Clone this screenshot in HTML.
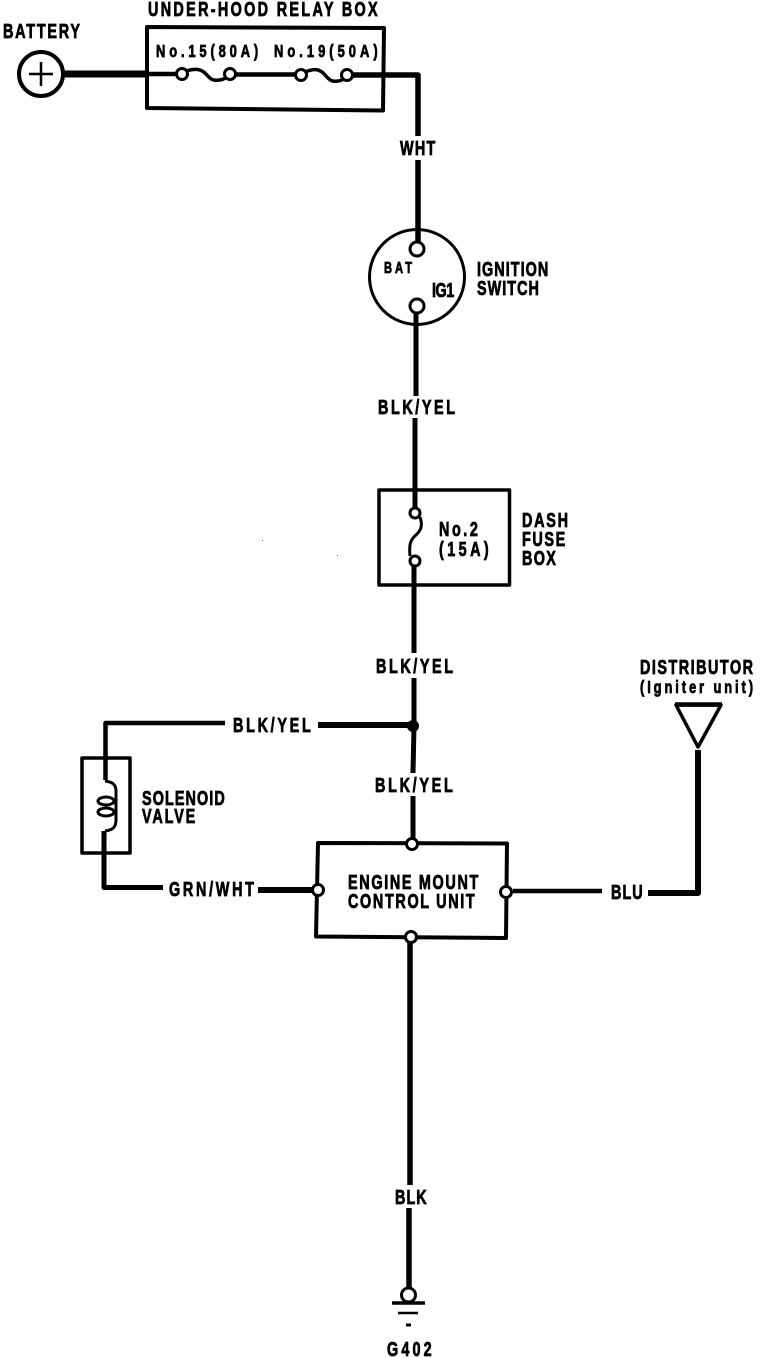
<!DOCTYPE html>
<html><head><meta charset="utf-8"><style>
html,body{margin:0;padding:0;background:#fff}
svg{display:block}
text{font-family:"Liberation Sans",sans-serif;font-weight:bold;font-size:20px;fill:#000;stroke:#000;stroke-width:.8px}
.s{font-size:15.5px}
.m{font-size:18px}
.w{fill:none;stroke:#000;stroke-linejoin:round;stroke-linecap:butt}
.c{fill:#fff;stroke:#000;stroke-width:3}
</style></head><body>
<svg width="768" height="1358" viewBox="0 0 768 1358" xmlns="http://www.w3.org/2000/svg">
<rect width="768" height="1358" fill="#fff"/>
<!-- battery -->
<circle cx="41" cy="74" r="22" fill="#fff" stroke="#000" stroke-width="4"/>
<path class="w" stroke-width="2.500" d="M29 74H53M41 62V86"/>
<path class="w" stroke-width="7" d="M64 74H146"/>
<path class="w" stroke-width="4.500" d="M146 74H178"/>
<!-- relay box -->
<path class="w" stroke-width="4" d="M147 27L384 28L383 110.500L147 108Z"/>
<path class="w" stroke-width="3.500" d="M186 71C196 68 201 69 206 74C211 80 214 81 219 80C223 80 225 78 227 77"/>
<path class="w" stroke-width="4.500" d="M235 74.500H296"/>
<path class="w" stroke-width="3.500" d="M305 72C315 68 320 69 325 75C330 81 333 82 338 81C341 81 343 79 345 78"/>
<path class="w" stroke-width="5.500" d="M352 75H418V136"/>
<circle class="c" cx="182" cy="74" r="5.500"/>
<circle class="c" cx="230" cy="74" r="5.500"/>
<circle class="c" cx="301" cy="75" r="5.500"/>
<circle class="c" cx="347" cy="75" r="5.500"/>
<!-- ignition -->
<circle class="c" cx="417" cy="277" r="47.500"/>
<path class="w" stroke-width="5.500" d="M418 160V243"/>
<circle class="c" cx="417" cy="249" r="7"/>
<circle class="c" cx="417" cy="306" r="7"/>
<path class="w" stroke-width="5" d="M416 313V396"/>
<!-- dash fuse -->
<path class="w" stroke-width="5" d="M415 418V508"/>
<rect class="w" stroke-width="3.500" x="379" y="490" width="130.500" height="95"/>
<path class="w" stroke-width="3" d="M420 517C423 526 421 530 416 535C410 540 409 545 410 556"/>
<circle class="c" cx="415" cy="513" r="5"/>
<circle class="c" cx="415" cy="561" r="5"/>
<path class="w" stroke-width="5" d="M414 566V653"/>
<!-- junction -->
<path class="w" stroke-width="5" d="M414 678V726L413 773"/>
<circle cx="413" cy="726" r="6" fill="#000"/>
<path class="w" stroke-width="6" d="M318 725H413"/>
<path class="w" stroke-width="4.500" d="M225 723H105.500V780"/>
<path class="w" stroke-width="5" d="M413 796V838"/>
<!-- solenoid -->
<rect class="w" stroke-width="3.500" x="82" y="758" width="48" height="95"/>
<path class="w" stroke-width="3" d="M105 781C112 782 116 784 116 791V820C116 828 112 830 105 831"/>
<ellipse cx="106" cy="801" rx="8" ry="4" fill="#fff" stroke="#000" stroke-width="3"/>
<ellipse cx="106" cy="812" rx="8" ry="4" fill="#fff" stroke="#000" stroke-width="3"/>
<path class="w" stroke-width="5" d="M104 831V887.500H163"/>
<path class="w" stroke-width="6" d="M258 890H312"/>
<!-- ECU -->
<path class="w" stroke-width="4" d="M318 843L507 843.500L506 938L316 936.500Z"/>
<circle class="c" cx="412" cy="844" r="5.500"/>
<circle class="c" cx="318" cy="890" r="5.500"/>
<circle class="c" cx="506" cy="892" r="5.500"/>
<circle class="c" cx="411" cy="937" r="5.500"/>
<!-- distributor -->
<path class="w" stroke-width="4.500" d="M513 891H602"/>
<path class="w" stroke-width="6" d="M648 893H698V750"/>
<path class="w" stroke-width="3.500" d="M676 705H721L698 747Z"/>
<path class="w" stroke-width="4.500" d="M675 704.500H722"/>
<!-- ground -->
<path class="w" stroke-width="5.500" d="M410 943V1185"/>
<path class="w" stroke-width="5.500" d="M409 1208V1288"/>
<circle class="c" cx="408.500" cy="1295" r="7"/>
<path class="w" stroke-width="3.500" d="M392 1303H425"/>
<path class="w" stroke-width="2.500" d="M398 1313H418"/>
<path class="w" stroke-width="3" d="M406 1325H411"/>
<rect x="262" y="540" width="1" height="1" fill="#777"/>
<rect x="337" y="555" width="1" height="1" fill="#777"/>
<!-- labels -->
<text transform="translate(148,16) scale(.72,1)" textLength="319">UNDER-HOOD RELAY BOX</text>
<text transform="translate(3,38) scale(.72,1)" textLength="107">BATTERY</text>
<text class="m" transform="translate(156,57) scale(.72,1)" textLength="142">No.15(80A)</text>
<text class="m" transform="translate(274,57) scale(.72,1)" textLength="144">No.19(50A)</text>
<text transform="translate(400,155) scale(.72,1)" textLength="49">WHT</text>
<text class="s" transform="translate(384,273) scale(.72,1)" textLength="39">BAT</text>
<text transform="translate(432,297) scale(.72,1)" textLength="31">IG1</text>
<text transform="translate(477,276) scale(.72,1)" textLength="99">IGNITION</text>
<text transform="translate(477,295) scale(.72,1)" textLength="86">SWITCH</text>
<text transform="translate(378,414) scale(.72,1)" textLength="107">BLK/YEL</text>
<text transform="translate(439,536) scale(.72,1)" textLength="54">No.2</text>
<text transform="translate(439,556) scale(.72,1)" textLength="69">(15A)</text>
<text transform="translate(522,527) scale(.72,1)" textLength="64">DASH</text>
<text transform="translate(522,546) scale(.72,1)" textLength="60">FUSE</text>
<text transform="translate(522,565) scale(.72,1)" textLength="47">BOX</text>
<text transform="translate(376,673) scale(.72,1)" textLength="107">BLK/YEL</text>
<text transform="translate(233,732) scale(.72,1)" textLength="108">BLK/YEL</text>
<text transform="translate(375,792) scale(.72,1)" textLength="108">BLK/YEL</text>
<text transform="translate(142,805) scale(.72,1)" textLength="115">SOLENOID</text>
<text transform="translate(142,823) scale(.72,1)" textLength="74">VALVE</text>
<text transform="translate(169,896) scale(.72,1)" textLength="118">GRN/WHT</text>
<text transform="translate(640,674) scale(.72,1)" textLength="157">DISTRIBUTOR</text>
<text class="m" transform="translate(640,693) scale(.72,1)" textLength="157">(Igniter unit)</text>
<text transform="translate(348,889) scale(.72,1)" textLength="181">ENGINE MOUNT</text>
<text transform="translate(348,908) scale(.72,1)" textLength="176">CONTROL UNIT</text>
<text transform="translate(611,899) scale(.72,1)" textLength="44">BLU</text>
<text transform="translate(395,1204) scale(.72,1)" textLength="44">BLK</text>
<text transform="translate(387,1356) scale(.72,1)" textLength="62">G402</text>
</svg>
</body></html>
